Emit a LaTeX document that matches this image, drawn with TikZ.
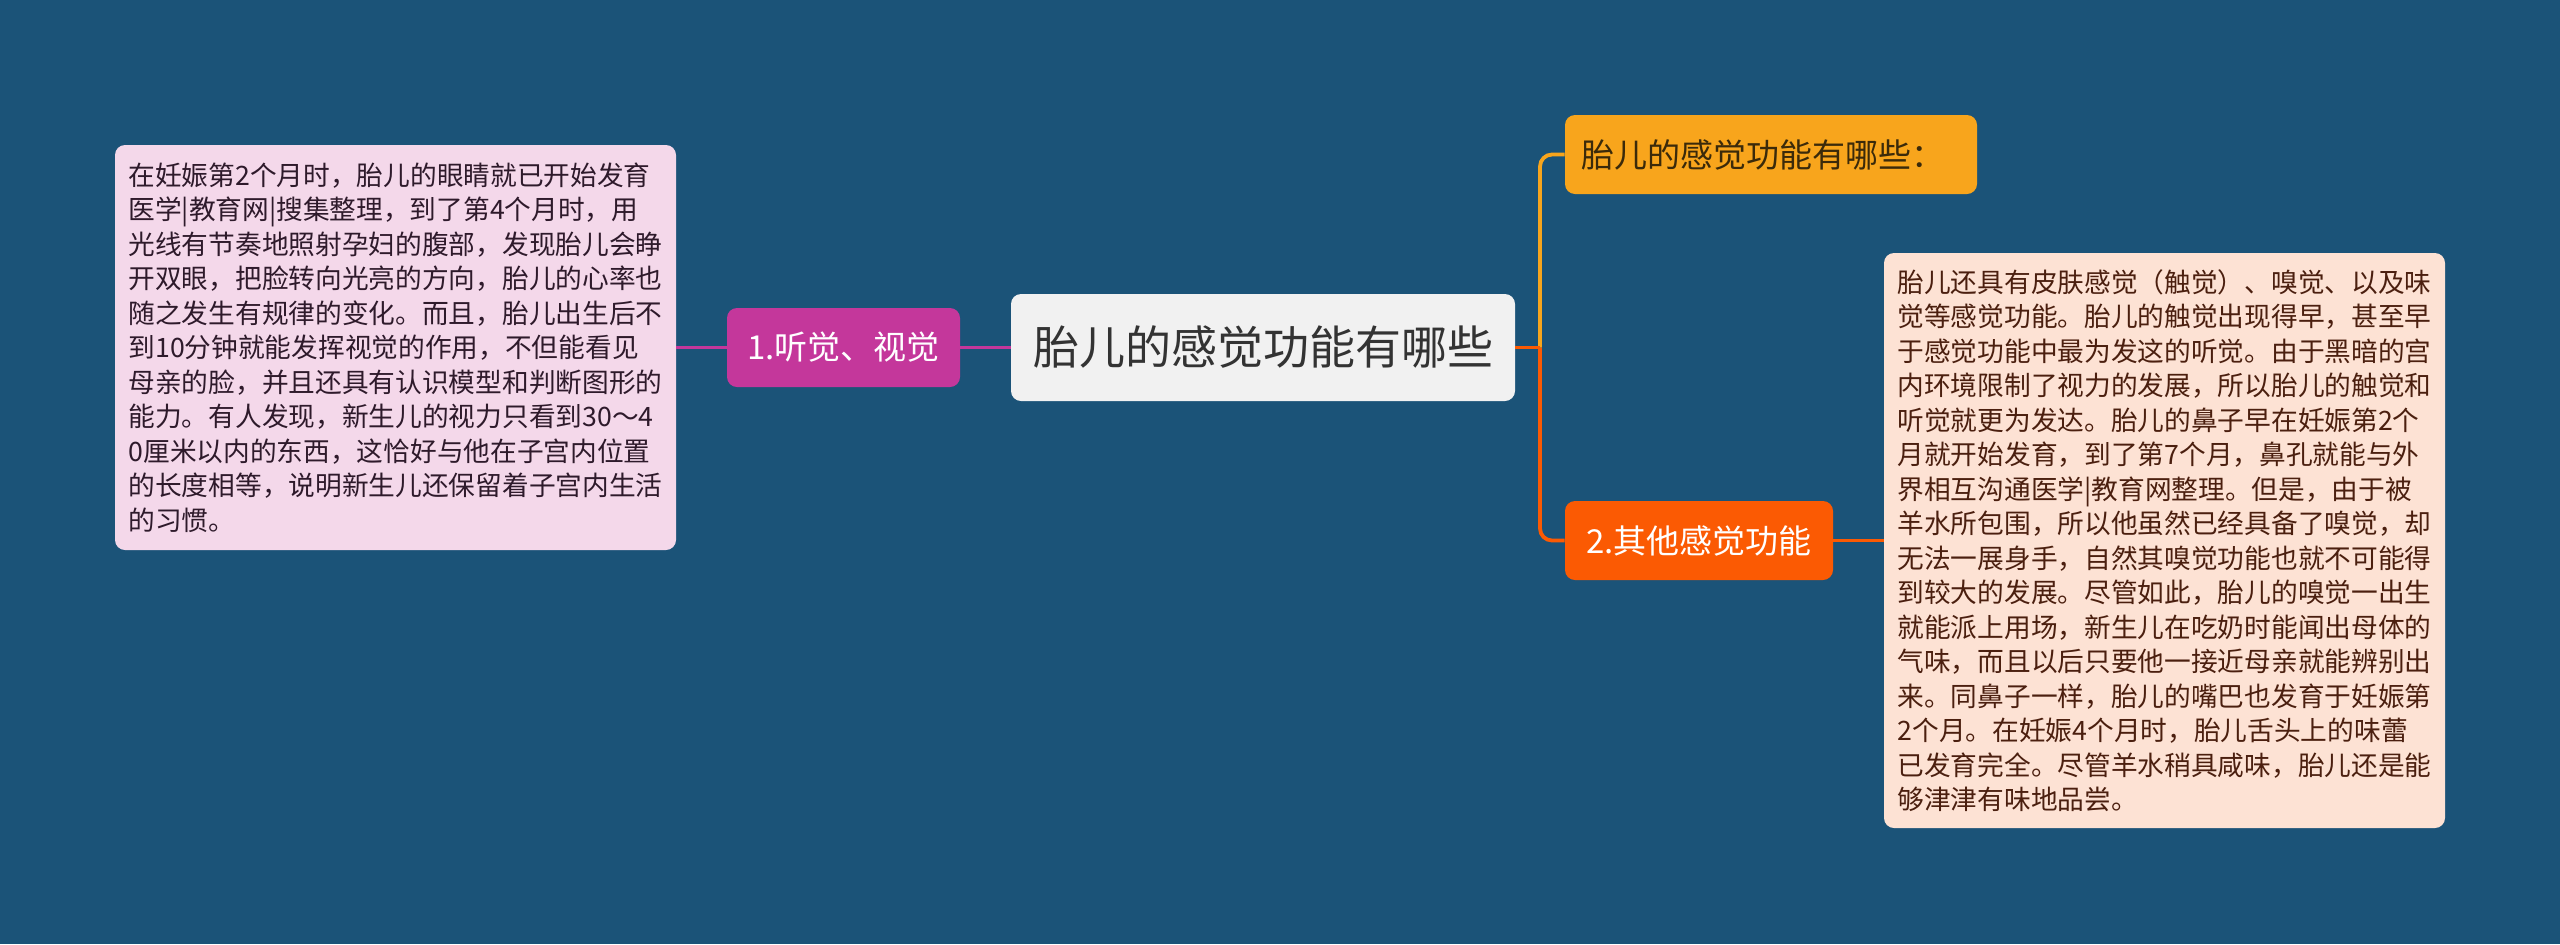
\documentclass[tikz,border=0pt]{standalone}
\usepackage{fontspec}
\setmainfont{Noto Sans CJK SC}
\definecolor{bg}{HTML}{1B5378}
\definecolor{centerfill}{HTML}{F1F1F1}
\definecolor{centertext}{HTML}{333333}
\definecolor{magentab}{HTML}{C4379B}
\definecolor{pinkbox}{HTML}{F4D8EA}
\definecolor{pinktext}{HTML}{2E1A2B}
\definecolor{yellowb}{HTML}{F8A51C}
\definecolor{yellowtext}{HTML}{3B2A0A}
\definecolor{orangeb}{HTML}{FB5A03}
\definecolor{peachbox}{HTML}{FDE2D4}
\definecolor{peachtext}{HTML}{4B1F0F}
\tikzset{
  centerbox/.style={fill=centerfill, rounded corners=5pt, minimum width=252pt, minimum height=53.5pt, inner sep=0pt, text=centertext, font=\fontsize{23pt}{27pt}\selectfont},
  branchbox/.style={rounded corners=5pt, minimum height=39.5pt, inner sep=0pt, font=\fontsize{16.5pt}{20pt}\selectfont},
  notebox/.style={rounded corners=5pt, inner sep=0pt, align=left, font=\fontsize{13.35pt}{17.25pt}\selectfont},
  conn/.style={line width=1.9pt},
}
\begin{document}
\begin{tikzpicture}[x=0.5pt,y=-0.5pt]
\fill[bg] (0,0) rectangle (2560,944);
\useasboundingbox (0,0) rectangle (2560,944);

\node[centerbox] (center) at (1263,347.5) {胎儿的感觉功能有哪些};

\node[branchbox, fill=magentab, text=white, minimum width=116.5pt] (left) at (843.5,347.5) {1.听觉、视觉};

\node[notebox, fill=pinkbox, text=pinktext, minimum width=280.5pt, minimum height=202.5pt] (leftbox) at (395.5,347.5) {在妊娠第2个月时，胎儿的眼睛就已开始发育\\医学|教育网|搜集整理，到了第4个月时，用\\光线有节奏地照射孕妇的腹部，发现胎儿会睁\\开双眼，把脸转向光亮的方向，胎儿的心率也\\随之发生有规律的变化。而且，胎儿出生后不\\到10分钟就能发挥视觉的作用，不但能看见\\母亲的脸，并且还具有认识模型和判断图形的\\能力。有人发现，新生儿的视力只看到30～4\\0厘米以内的东西，这恰好与他在子宫内位置\\的长度相等，说明新生儿还保留着子宫内生活\\的习惯。};

\node[branchbox, fill=yellowb, text=yellowtext, text width=190pt, align=left, inner xsep=8pt] (top) at (1771,154.5) {胎儿的感觉功能有哪些：};

\node[branchbox, fill=orangeb, text=white, minimum width=134pt] (bottom) at (1699,540.5) {2.其他感觉功能};

\node[notebox, fill=peachbox, text=peachtext, minimum width=280.5pt, minimum height=287.5pt] (rightbox) at (2164.5,540.5) {胎儿还具有皮肤感觉（触觉）、嗅觉、以及味\\觉等感觉功能。胎儿的触觉出现得早，甚至早\\于感觉功能中最为发这的听觉。由于黑暗的宫\\内环境限制了视力的发展，所以胎儿的触觉和\\听觉就更为发达。胎儿的鼻子早在妊娠第2个\\月就开始发育，到了第7个月，鼻孔就能与外\\界相互沟通医学|教育网整理。但是，由于被\\羊水所包围，所以他虽然已经具备了嗅觉，却\\无法一展身手，自然其嗅觉功能也就不可能得\\到较大的发展。尽管如此，胎儿的嗅觉一出生\\就能派上用场，新生儿在吃奶时能闻出母体的\\气味，而且以后只要他一接近母亲就能辨别出\\来。同鼻子一样，胎儿的嘴巴也发育于妊娠第\\2个月。在妊娠4个月时，胎儿舌头上的味蕾\\已发育完全。尽管羊水稍具咸味，胎儿还是能\\够津津有味地品尝。};

\coordinate (j) at (1540,347.5);

\draw[conn, magentab] (center.west) -- (left.east);
\draw[conn, magentab] (left.west) -- (leftbox.east);
\draw[conn, yellowb, rounded corners=6pt] (j) |- (top.west);
\draw[conn, orangeb, rounded corners=6pt] (j) |- (bottom.west);
\draw[conn, orangeb] (center.east) -- (j);
\draw[conn, orangeb] (bottom.east) -- (rightbox.west);
\end{tikzpicture}
\end{document}
